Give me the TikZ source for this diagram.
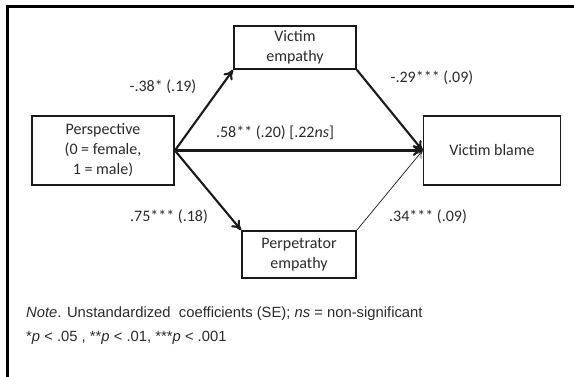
\documentclass[tikz,border=0pt]{standalone}
\usepackage{fontspec}
\setmainfont{Carlito}
\newfontfamily\notefont{Liberation Sans}
\usepackage{xcolor}
\usetikzlibrary{arrows.meta,positioning}
\definecolor{ink}{HTML}{1A1A1A}
\definecolor{txt}{HTML}{2B2B2B}
\tikzset{
  var/.style={draw=ink,line width=1.8pt,fill=white,align=center,text=txt,font=\fontsize{16}{20}\selectfont,inner sep=0pt},
  path/.style={-{To[length=3.4mm,width=3.8mm]},line width=2.1pt,draw=ink},
  weak/.style={-{To[length=2.6mm,width=3mm]},line width=0.7pt,draw=ink},
  coef/.style={font=\fontsize{16}{18}\selectfont,text=txt,inner sep=1pt},
  note/.style={font=\notefont\fontsize{14.8}{17}\selectfont,text=txt,anchor=west,inner sep=0pt}
}
\begin{document}
\begin{tikzpicture}[x=1pt,y=-1pt]
  \useasboundingbox (0,0) rectangle (574,377);
  \draw[line width=3pt,draw=black] (7,377) -- (7,7) -- (574,7);
  % variables
  \node[var,minimum width=142pt,minimum height=69pt] (persp) at (103,150.5) {Perspective\\(0 = female,\\1 = male)};
  \node[var,minimum width=122pt,minimum height=43pt] (vemp) at (295,47.5) {Victim\\empathy};
  \node[var,minimum width=114pt,minimum height=47pt] (pemp) at (299,254.5) {Perpetrator\\empathy};
  \node[var,minimum width=137pt,minimum height=69pt] (blame) at (492,150.5) {Victim blame};
  % paths
  \draw[path] (persp.east) -- (vemp.south west);
  \draw[path] (persp.east) -- (pemp.north west);
  \draw[path] (persp.east) -- (blame.west);
  \draw[path] (vemp.south east) -- (blame.west);
  \draw[weak] (pemp.north east) -- (blame.west);
  % coefficients
  \node[coef] (a1) at (163,87) {-.38* (.19)};
  \node[coef] (b1) at (432,78) {-.29*** (.09)};
  \node[coef] (c) at (275,133) {.58** (.20) [.22\textit{ns}]};
  \node[coef] (a2) at (169,217) {.75*** (.18)};
  \node[coef] (b2) at (428,217) {.34*** (.09)};
  % note
  \node[note] (n1) at (26,314) {\textit{Note}. Unstandardized\ \ coefficients (SE); \textit{ns} = non-significant};
  \node[note] (n2) at (26,338) {*\textit{p} < .05 , **\textit{p} < .01, ***\textit{p} < .001};
\end{tikzpicture}
\end{document}
